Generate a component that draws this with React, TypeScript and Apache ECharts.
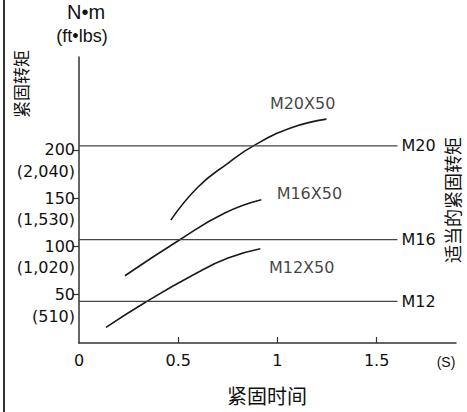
import React, { useEffect, useRef } from "react";
import * as echarts from "echarts";

const xTickValues = [0, 0.5, 1, 1.5];
const yTickValues = [50, 100, 150, 200];
const yTickFtLbs = ["(510)", "(1,020)", "(1,530)", "(2,040)"];

const curveNames = ["M20X50", "M16X50", "M12X50"];
const m20x50: [number, number][] = [
  [0.463, 127.2], [0.6, 161.5], [0.75, 186], [0.877, 203.8], [1.07, 222.7], [1.247, 231.7],
];
const m16x50: [number, number][] = [
  [0.2315, 69.6], [0.508, 106.9], [0.735, 134.5], [0.919, 148.2],
];
const m12x50: [number, number][] = [
  [0.136, 16.1], [0.341, 43], [0.584, 71.4], [0.751, 87.9], [0.914, 97.5],
];
const curveLabelPos: [number, number][] = [
  [1.127, 247.5], [1.161, 154.4], [1.122, 78.2],
];

const refNames = ["M20", "M16", "M12"];
const refValues = [204, 107, 43];
const refEnd = 1.605;

const FONT = "DejaVu Sans";
const INK = "#111";

export default function App() {
  const ref = useRef<HTMLDivElement>(null);
  useEffect(() => {
    document.body.style.margin = "0";
    const chart = echarts.init(ref.current!, null, { renderer: "svg" });
    const curves = [m20x50, m16x50, m12x50];
    const series: any[] = [];
    curves.forEach((d, i) => {
      series.push({
        type: "line",
        name: curveNames[i],
        data: d,
        smooth: 0.5,
        symbol: "none",
        lineStyle: { color: "#1a1a1a", width: 1.6 },
      });
    });
    refValues.forEach((v, i) => {
      series.push({
        type: "line",
        name: refNames[i],
        data: [[0, v], [refEnd, v]],
        symbol: "none",
        lineStyle: { color: "#444", width: 1.3 },
        endLabel: {
          show: true,
          formatter: refNames[i],
          distance: 4,
          fontFamily: FONT,
          fontSize: 16,
          color: INK,
        },
      });
    });
    series.push({
      type: "scatter",
      symbolSize: 0,
      data: curveLabelPos.map((p, i) => [p[0], p[1], curveNames[i]]),
      label: {
        show: true,
        position: "inside",
        formatter: (p: any) => p.data[2],
        fontFamily: FONT,
        fontSize: 16,
        color: INK,
      },
    });
    const yBase = {
      type: "value",
      min: 0,
      max: 296,
      interval: 50,
      position: "left",
      splitLine: { show: false },
    };
    chart.setOption({
      animation: false,
      textStyle: { fontFamily: FONT },
      grid: { left: 79, right: 11, top: 57, bottom: 69 },
      xAxis: {
        type: "value",
        min: 0,
        max: 1.9,
        interval: 0.5,
        splitLine: { show: false },
        axisLine: { lineStyle: { color: "#333", width: 1.5 } },
        axisTick: {
          show: true,
          inside: true,
          length: 6,
          customValues: [0.5, 1, 1.5],
          lineStyle: { color: "#333", width: 1.2 },
        },
        axisLabel: {
          customValues: xTickValues,
          showMinLabel: true,
          showMaxLabel: true,
          hideOverlap: false,
          margin: 9,
          fontFamily: FONT,
          fontSize: 16,
          color: INK,
          formatter: (v: number) => String(v),
        },
      },
      yAxis: [
        {
          ...yBase,
          axisLine: { show: true, lineStyle: { color: "#333", width: 1.5 } },
          axisTick: {
            show: true,
            inside: false,
            length: 6,
            customValues: yTickValues,
            lineStyle: { color: "#333", width: 1.2 },
          },
          axisLabel: {
            customValues: yTickValues,
            showMinLabel: true,
            showMaxLabel: true,
            margin: 4,
            fontFamily: FONT,
            fontSize: 16,
            lineHeight: 19,
            padding: [3, 0, 0, 0],
            color: INK,
            formatter: (v: number) => String(v),
          },
        },
        {
          ...yBase,
          axisLine: { show: false },
          axisTick: { show: false },
          axisLabel: {
            customValues: yTickValues,
            showMinLabel: true,
            showMaxLabel: true,
            margin: 4,
            fontFamily: FONT,
            fontSize: 16,
            lineHeight: 19,
            verticalAlign: "top",
            padding: [12, 0, 0, 0],
            color: INK,
            formatter: (v: number) => {
              const i = yTickValues.indexOf(v);
              return i >= 0 ? yTickFtLbs[i] : "";
            },
          },
        },
      ],
      graphic: [
        {
          type: "rect",
          shape: { x: 3, y: 0, width: 2, height: 412 },
          style: { fill: "#333" },
        },
        {
          type: "text",
          x: 86,
          y: 12,
          style: {
            text: "N•m",
            fontFamily: "Liberation Sans",
            fontSize: 20,
            fill: INK,
            align: "center",
            verticalAlign: "middle",
          },
        },
        {
          type: "text",
          x: 82,
          y: 36,
          style: {
            text: "(ft•lbs)",
            fontFamily: "Liberation Sans",
            fontSize: 18,
            fill: INK,
            align: "center",
            verticalAlign: "middle",
          },
        },
        {
          type: "text",
          x: 20,
          y: 84,
          rotation: Math.PI / 2,
          style: {
            text: "紧固转矩",
            fontFamily: "Noto Sans CJK SC",
            fontSize: 17,
            fill: INK,
            align: "center",
            verticalAlign: "middle",
          },
        },
        {
          type: "text",
          x: 452,
          y: 200,
          rotation: Math.PI / 2,
          style: {
            text: "适当的紧固转矩",
            fontFamily: "Noto Sans CJK SC",
            fontSize: 18,
            fill: INK,
            align: "center",
            verticalAlign: "middle",
          },
        },
        {
          type: "text",
          x: 267,
          y: 395,
          style: {
            text: "紧固时间",
            fontFamily: "Noto Sans CJK SC",
            fontSize: 20,
            fill: INK,
            align: "center",
            verticalAlign: "middle",
          },
        },
        {
          type: "text",
          x: 446,
          y: 362,
          style: {
            text: "(S)",
            fontFamily: "Liberation Sans",
            fontSize: 14,
            fill: INK,
            align: "center",
            verticalAlign: "middle",
          },
        },
      ],
      series,
    });
    return () => chart.dispose();
  }, []);
  return <div ref={ref} style={{ width: 467, height: 412 }} />;
}
